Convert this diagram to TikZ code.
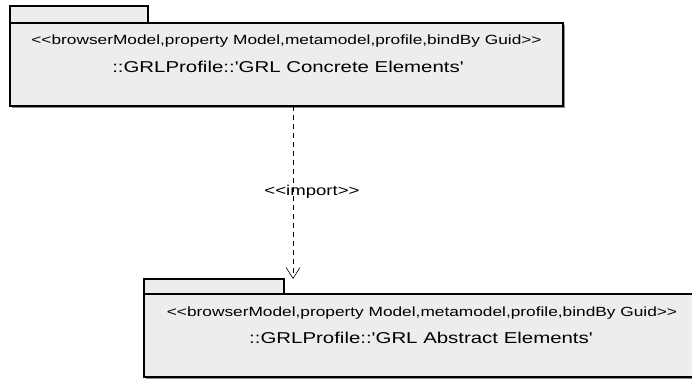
\documentclass[tikz,border=0pt]{standalone}
\usepackage{fontspec}
\newfontfamily\umlfont{Liberation Sans}[FakeStretch=1.3,Ligatures=TeXOff]
\usetikzlibrary{arrows.meta}
\begin{document}
\begin{tikzpicture}[x=1pt,y=-1pt,
  pkg/.style={draw=black, line width=1.1pt, fill=black!7, inner sep=0pt, outer sep=0pt},
  shadowfill/.style={fill=black!45, draw=none},
  stereo/.style={font=\umlfont\fontsize{13.3}{16}\selectfont, inner sep=0pt},
  pname/.style={font=\umlfont\fontsize{15.7}{19}\selectfont, inner sep=0pt},
  deplabel/.style={font=\umlfont\fontsize{14.3}{17}\selectfont, inner sep=0pt},
  dep/.style={dash pattern=on 5pt off 4pt, line width=0.6pt,
    -{Straight Barb[length=11pt,width=14pt,line width=0.6pt]}}]
\useasboundingbox (0,0) rectangle (692,379);
\clip (0,0) rectangle (692,379);
\fill[white] (0,0) rectangle (692,379);
% top package
\fill[shadowfill] (12,25) rectangle (565,108);
\node[pkg, minimum width=553pt, minimum height=83pt, anchor=north west] (topbody) at (10,23) {};
\node[pkg, minimum width=138pt, minimum height=17pt, anchor=south west] (toptab) at (topbody.north west) {};
\node[stereo] (topstereo) at (286.5,41) {<<browserModel,property Model,metamodel,profile,bindBy Guid>>};
\node[pname] (topname) at (288,67) {::GRLProfile::'GRL Concrete Elements'};
% bottom package
\fill[shadowfill] (146,296) rectangle (702,379);
\node[pkg, minimum width=556pt, minimum height=83pt, anchor=north west] (botbody) at (144,294) {};
\node[pkg, minimum width=140pt, minimum height=15pt, anchor=south west] (bottab) at (botbody.north west) {};
\node[stereo] (botstereo) at (422,313) {<<browserModel,property Model,metamodel,profile,bindBy Guid>>};
\node[pname] (botname) at (421,338) {::GRLProfile::'GRL Abstract Elements'};
% import dependency
\coordinate (imptip) at (293,279);
\draw[dep] (imptip |- topbody.south) -- (imptip);
\node[deplabel] (implabel) at (312,192) {<<import>>};
\end{tikzpicture}
\end{document}
